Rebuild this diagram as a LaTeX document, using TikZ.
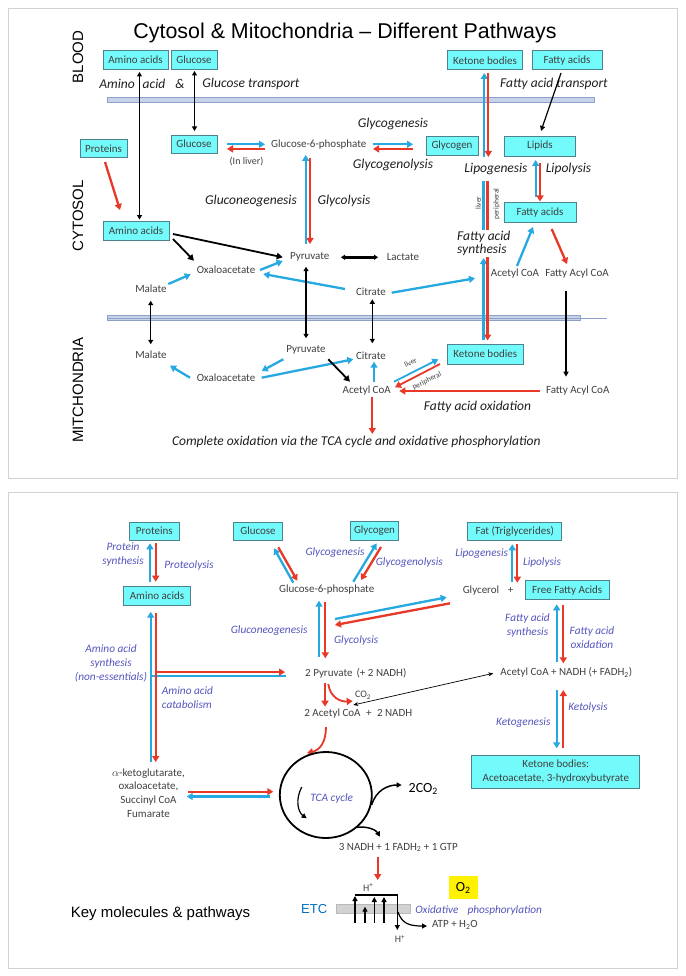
\documentclass[tikz,border=0pt]{standalone}
\usepackage{fontspec}
\setmainfont{Carlito}
\newfontfamily\arialf{Liberation Sans}
\usetikzlibrary{arrows.meta}
\definecolor{bl}{RGB}{38,168,224}
\definecolor{rd}{RGB}{232,56,40}
\definecolor{cyanf}{RGB}{115,250,250}
\definecolor{bxc}{RGB}{80,130,140}
\definecolor{txt}{RGB}{64,64,64}
\definecolor{purp}{RGB}{85,85,190}
\definecolor{memf}{RGB}{198,211,232}
\definecolor{memd}{RGB}{140,160,200}
\definecolor{etcb}{RGB}{0,112,192}
\newcommand\fsz[2]{\fontsize{#1}{#2}\selectfont}
\tikzset{
 bx/.style={draw=bxc, fill=cyanf, line width=0.9pt, inner sep=0pt, text=txt, font=\fsz{11}{13}},
 tx/.style={text=txt, font=\fsz{11}{13}, inner sep=0pt},
 txs/.style={text=txt, font=\fsz{10}{12}, inner sep=0pt},
 itl/.style={text=black!88, font=\fsz{13.5}{14}\itshape, inner sep=0pt},
 pit/.style={text=purp, font=\fsz{11.3}{14}\itshape, inner sep=0pt},
 sidelbl/.style={font=\arialf\fsz{15}{17}, inner sep=0pt},
 tiny/.style={text=txt, font=\fsz{7.5}{9}, inner sep=0pt},
 ba/.style={draw=bl, line width=2.3pt, -{Triangle[length=6pt,width=7pt]}},
 ra/.style={draw=rd, line width=2.3pt, -{Triangle[length=6pt,width=7pt]}},
 bn/.style={draw=bl, line width=2.3pt},
 rn/.style={draw=rd, line width=2.3pt},
 ka/.style={draw=black, line width=1.8pt, -{Triangle[length=6pt,width=6.5pt]}},
 kd/.style={draw=black, line width=1.4pt, {Triangle[length=4.5pt,width=5pt]}-{Triangle[length=4.5pt,width=5pt]}},
 kt/.style={draw=black, line width=1.2pt, -{Triangle[length=5pt,width=5pt]}},
 membr/.style={fill=memf, draw=memd, line width=0.6pt},
}
\begin{document}
\begin{tikzpicture}[x=1pt,y=-1pt]
\useasboundingbox (0,0) rectangle (685,976);
\fill[white] (0,0) rectangle (685,976);
\draw[gray!35, line width=0.8pt] (8,8) rectangle (677,478);
\draw[gray!35, line width=0.8pt] (8,492) rectangle (677,968);

% ===================== TOP PANEL =====================
\node[font=\arialf\fsz{21.4}{24}] (title) at (345,33) {Cytosol \& Mitochondria – Different Pathways};
\node[sidelbl, rotate=90] (blood) at (78,57) {BLOOD};
\node[sidelbl, rotate=90] (cyto) at (78,216) {CYTOSOL};
\node[sidelbl, rotate=90] (mito) at (78,390) {MITCHONDRIA};

% membranes
\path[membr] (107,97) rectangle (594,102);
\path[membr] (107,315) rectangle (580,320);
\draw[memd, line width=0.8pt] (107,318.5) -- (607,318.5);

% boxes
\node[bx, minimum width=65, minimum height=19] (aaT) at (135.5,60) {Amino acids};
\node[bx, minimum width=46, minimum height=19] (glcT) at (194,60) {Glucose};
\node[bx, minimum width=75, minimum height=19] (kbT) at (485,60.3) {Ketone bodies};
\node[bx, minimum width=70, minimum height=19] (faT) at (567,60.3) {Fatty acids};
\node[bx, minimum width=46, minimum height=18] (glcC) at (194,144) {Glucose};
\node[bx, minimum width=47, minimum height=18] (protC) at (103.5,148.5) {Proteins};
\node[bx, minimum width=66, minimum height=19] (aaC) at (136,230.5) {Amino acids};
\node[bx, minimum width=52, minimum height=19] (glyC) at (452,145.5) {Glycogen};
\node[bx, minimum width=71, minimum height=20] (lipC) at (540,146) {Lipids};
\node[bx, minimum width=72, minimum height=20] (faC) at (540,212.5) {Fatty acids};
\node[bx, minimum width=76, minimum height=20] (kbM) at (485.3,354.2) {Ketone bodies};

% italic labels
\node[itl] (tAmino) at (117,84) {Amino};
\node[itl] (tAcid) at (154,84) {acid};
\node[itl] (tAmp) at (180,84) {\&};
\node[itl] (tGT) at (251,84) {Glucose transport};
\node[itl] (tFAT) at (554,84) {Fatty acid transport};
\node[itl] (tGlycogenesis) at (393,124) {Glycogenesis};
\node[itl] (tGlycogenolysis) at (393,165) {Glycogenolysis};
\node[itl] (tLipogenesis) at (496,169) {Lipogenesis};
\node[itl] (tLipolysis) at (568.5,169) {Lipolysis};
\node[itl] (tGluco) at (251,201) {Gluconeogenesis};
\node[itl] (tGlycol) at (344,201) {Glycolysis};
\node[itl, align=left, anchor=west] (tFAS) at (457,243.5) {Fatty acid\\[-1pt]synthesis};
\node[itl] (tFAO) at (477.5,406.7) {Fatty acid oxidation};
\node[itl] (tComplete) at (356.3,441.7) {Complete oxidation via the TCA cycle and oxidative phosphorylation};

% plain labels
\node[tx] (g6pT) at (318.8,145) {Glucose-6-phosphate};
\node[txs] (inliver) at (246.5,161.5) {(In liver)};
\node[tx] (pyrC) at (309.7,256.7) {Pyruvate};
\node[tx] (lacC) at (403,257.3) {Lactate};
\node[tx] (oaaC) at (226,270) {Oxaloacetate};
\node[tx] (malC) at (151,288.3) {Malate};
\node[tx] (citC) at (371,291.7) {Citrate};
\node[tx] (acoaC) at (515,273.3) {Acetyl CoA};
\node[tx] (facoaC) at (577,273.3) {Fatty Acyl CoA};
\node[tx] (malM) at (151,354.3) {Malate};
\node[tx] (pyrM) at (306,350) {Pyruvate};
\node[tx] (citM) at (371,355.7) {Citrate};
\node[tx] (oaaM) at (226,377.7) {Oxaloacetate};
\node[tx] (acoaM) at (366.7,390.7) {Acetyl CoA};
\node[tx] (facoaM) at (577.7,391) {Fatty Acyl CoA};
\node[tiny, rotate=90] (liv1) at (478.3,203) {liver};
\node[tiny, rotate=90] (per1) at (496.7,204) {peripheral};
\node[tiny, rotate=27] (liv2) at (410.5,362.5) {liver};
\node[tiny, rotate=27] (per2) at (427,381) {peripheral};

% top arrows
\draw[kd] (aaC.north -| 139.5,0) ++(0,-1) -- (139.5,72);
\draw[kd] (194.5,131) -- (194.5,71);
\draw[ra] (105,162) -- (120,210);
\draw[ba] (227,144.3) -- (265,144.3);
\draw[ra] (265,148.9) -- (227,148.9);
\draw[ba] (373,144.3) -- (413,144.3);
\draw[ra] (413,148.9) -- (373,148.9);
\draw[kt] (561,73) -- (541,131);
\draw[ba] (484.3,157) -- (484.3,73);
\draw[ra] (488.3,73) -- (488.3,157);
\draw[bn] (483.6,181) -- (483.6,230);
\draw[rn] (487.6,181) -- (487.6,230);
\draw[ba] (483.6,340) -- (483.6,258);
\draw[ra] (487.6,257) -- (487.6,340.5);
\draw[ba] (535.7,197) -- (535.7,160);
\draw[ra] (540,163) -- (540,201.5);
\draw[ba] (517,266) -- (533,227);
\draw[ra] (551.7,229) -- (567,264);
\draw[ba] (305.7,244) -- (305.7,155);
\draw[ra] (310,158) -- (310,244);
\draw[draw=black, line width=2.6pt, {Triangle[length=4pt,width=5pt]}-{Triangle[length=4pt,width=5pt]}] (341,257.3) -- (378,257.3);
\draw[ka] (173,234) -- (282.7,257.3);
\draw[ka] (173,239) -- (194,260.7);
\draw[ba] (260,270) -- (282.7,261);
\draw[ba] (168.3,284) -- (190.7,274.3);
\draw[ba] (345,289) -- (263.3,274);
\draw[ba] (391.7,292.7) -- (475,278.3);
\draw[kd] (150.7,300.7) -- (150.7,344.3);
\draw[kd] (306,266.7) -- (306,338.3);
\draw[kd] (372.3,299.3) -- (372.3,343.3);
\draw[kt] (566,290.7) -- (566,376.7);
% mito arrows
\draw[ba] (190,377.7) -- (170,365.7);
\draw[ba] (283.3,359.3) -- (261.7,371);
\draw[ba] (261.7,377.7) -- (353.3,359.3);
\draw[ka] (328.3,359.3) -- (350,381.7);
\draw[ba] (374,381.7) -- (374,361.7);
\draw[ba, line width=1.8pt] (394,381.7) -- (438.3,359.3);
\draw[ra, line width=1.8pt] (440,364) -- (395,387.3);
\draw[ra] (540,391) -- (399.3,391);
\draw[ra] (372.3,396.7) -- (372.3,434);

% ===================== BOTTOM PANEL =====================
\node[bx, minimum width=50, minimum height=18] (protB) at (154.3,531) {Proteins};
\node[bx, minimum width=49, minimum height=18] (glcB) at (258,531) {Glucose};
\node[bx, minimum width=48, minimum height=19] (glyB) at (374.5,531) {Glycogen};
\node[bx, minimum width=94, minimum height=18] (fatB) at (514.7,531) {Fat (Triglycerides)};
\node[bx, minimum width=67, minimum height=19] (aaB) at (157,595.5) {Amino acids};
\node[bx, minimum width=84, minimum height=19] (ffaB) at (567.2,590.3) {Free Fatty Acids};
\node[bx, minimum width=168, minimum height=33, align=center, font=\fsz{11}{14}] (kbB) at (555.8,771.7) {Ketone bodies:\\Acetoacetate, 3-hydroxybutyrate};
\node[fill=yellow, minimum width=29, minimum height=23, inner sep=0pt, font=\fsz{14}{16}] (o2) at (463.3,887.7) {O\textsubscript{2}};

\node[pit, align=center] (pProtSyn) at (123,554.5) {Protein\\synthesis};
\node[pit] (pProteo) at (189,565) {Proteolysis};
\node[pit] (pGlycogenesis) at (335,552.7) {Glycogenesis};
\node[pit] (pGlycogenolysis) at (409.3,562.7) {Glycogenolysis};
\node[pit] (pLipogenesis) at (481.7,553.3) {Lipogenesis};
\node[pit] (pLipolysis) at (542,562.3) {Lipolysis};
\node[pit, align=center] (pFAS) at (527.5,625) {Fatty acid\\synthesis};
\node[pit, align=center] (pFAO) at (592,638) {Fatty acid\\oxidation};
\node[pit] (pGluco) at (269.2,630.7) {Gluconeogenesis};
\node[pit] (pGlycol) at (356.2,640) {Glycolysis};
\node[pit, align=center] (pAAS) at (111,663) {Amino acid\\synthesis\\(non-essentials)};
\node[pit, align=left, anchor=west] (pAAC) at (161.7,697.7) {Amino acid\\catabolism};
\node[pit] (pKetolysis) at (588,707.3) {Ketolysis};
\node[pit] (pKetogenesis) at (523.3,722.7) {Ketogenesis};
\node[pit] (pTCA) at (331.7,798) {TCA cycle};
\node[pit] (pOx) at (478.7,910) {Oxidative\hspace{9pt}phosphorylation};

\node[tx] (g6pB) at (326.7,590) {Glucose-6-phosphate};
\node[tx] (glyc) at (481,590.7) {Glycerol};
\node[tx] (plus) at (510.7,590.7) {+};
\node[tx] (acoaB) at (566.3,672.7) {Acetyl CoA + NADH (+ FADH\textsubscript{2})};
\node[tx] (pyrB) at (355.8,673.3) {2 Pyruvate\hspace{4pt}(+ 2 NADH)};
\node[txs] (co2) at (363,695) {CO\textsubscript{2}};
\node[tx] (acoa2) at (358.3,714) {2 Acetyl CoA\hspace{3pt} + \hspace{3pt}2 NADH};
\node[tx, align=center, font=\fsz{11}{13.7}] (akg) at (148.5,793) {$\alpha$-ketoglutarate,\\oxaloacetate,\\Succinyl CoA\\Fumarate};
\node[font=\fsz{14}{16}] (co2b) at (423.3,789.3) {2CO\textsubscript{2}};
\node[tx] (nadh) at (398.3,847.3) {3 NADH + 1 FADH\textsubscript{2} + 1 GTP};
\node[txs] (hTop) at (368.3,887.3) {H\textsuperscript{+}};
\node[txs] (hBot) at (400,939) {H\textsuperscript{+}};
\node[tx] (atp) at (455,925) {ATP + H\textsubscript{2}O};
\node[font=\arialf\fsz{13}{15}, text=etcb, inner sep=0pt] (etc) at (314.2,909.3) {ETC};
\node[font=\arialf\fsz{15}{17}, inner sep=0pt] (key) at (160.5,913.3) {Key molecules \& pathways};

% bottom arrows
\draw[ba] (150,581.7) -- (150,543.3);
\draw[ra] (155.7,543.3) -- (155.7,581.7);
\draw[ba] (293.3,582.7) -- (274,548.3);
\draw[ra] (278.3,547.3) -- (297.3,580.7);
\draw[ba] (353.3,581.7) -- (376.7,543.3);
\draw[ra] (381,547) -- (361,580);
\draw[ba] (512.3,581.7) -- (512.3,544.3);
\draw[ra] (517.3,544.3) -- (517.3,582.7);
\draw[ba] (335,619) -- (446.7,597.3);
\draw[ra] (450,603.3) -- (335,625);
\draw[ba] (319,656.7) -- (319,600.7);
\draw[ra] (325.3,601.7) -- (325.3,658.3);
\draw[ba] (556.7,661.7) -- (556.7,604.3);
\draw[ra] (563.3,605) -- (563.3,663.3);
\draw[ba] (556.7,690) -- (556.7,748.3);
\draw[ra] (563.3,748.3) -- (563.3,690);
\draw[ba] (150.7,762) -- (150.7,611.7);
\draw[bn] (150.7,675.9) -- (286,675.9);
\draw[ra] (155.7,613.3) -- (155.7,762);
\draw[ra] (155.7,672.1) -- (285,672.1);
\draw[ra] (188.3,791.7) -- (273.3,791.7);
\draw[ba] (270,796.5) -- (186.7,796.5);
\draw[ra] (325,683.3) -- (325,706.7);
\draw[ra, line width=1.8pt] (328.3,684) .. controls (330,697) and (340,702) .. (352.7,701);
\draw[black, line width=0.7pt, {Stealth[length=5pt,width=4pt]}-{Stealth[length=5pt,width=4pt]}] (353.3,705) -- (493.3,673.3);
\draw[ra, line width=1.8pt] (326,727) .. controls (326,742) and (320,750) .. (307,753);
\draw[black, line width=1.8pt] (325.8,795) ellipse [x radius=46, y radius=43];
\draw[kt] (301.7,787) .. controls (295,800) and (298,812) .. (306.7,818.3);
\draw[kt, line width=1.5pt] (371.7,805) .. controls (376,790) and (388,785) .. (401.7,785);
\draw[kt, line width=1.5pt] (356.7,827.3) .. controls (368,826) and (376,830) .. (380,836.7);
\draw[ra] (377.7,856.7) -- (377.7,880);
% ETC membrane
\path[fill=gray!35, draw=gray!55, line width=0.5pt] (336.7,904.3) rectangle (410,913.3);
\draw[kt, line width=1.6pt] (355,895) -- (397.3,895) -- (397.3,930);
\draw[kt, line width=1.6pt] (355,922.7) -- (355,896);
\draw[kt, line width=1.6pt] (365,922.7) -- (365,906.7);
\draw[kt, line width=1.6pt] (374.3,922.7) -- (374.3,897);
\draw[kt, line width=1.6pt] (384,922.7) -- (384,897);
\draw[kt] (398,912) .. controls (402,924) and (410,926) .. (427,926);
\end{tikzpicture}
\end{document}
